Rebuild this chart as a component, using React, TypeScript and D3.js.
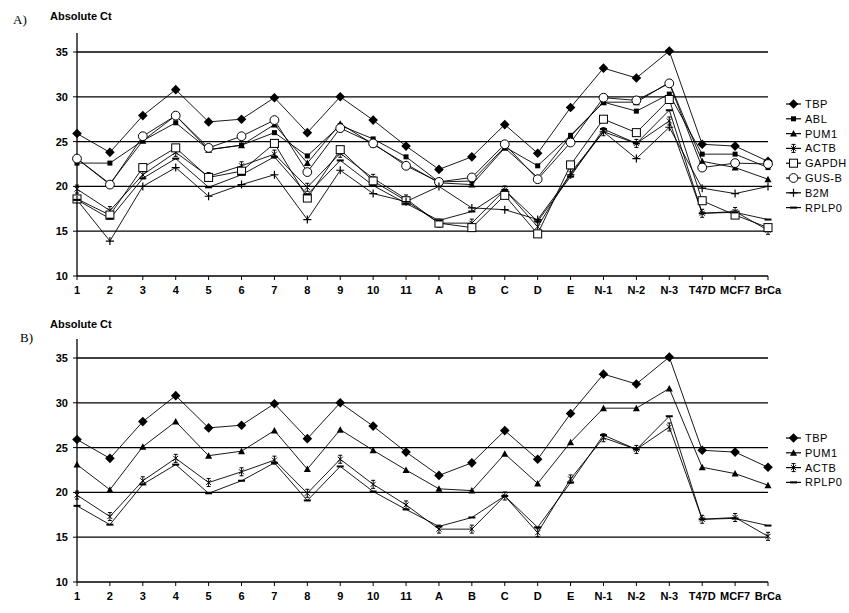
import React from 'react';
import * as d3 from 'd3';

const categories = ['1', '2', '3', '4', '5', '6', '7', '8', '9', '10', '11', 'A', 'B', 'C', 'D', 'E', 'N-1', 'N-2', 'N-3', 'T47D', 'MCF7', 'BrCa'];

const TBP = [25.9, 23.8, 27.9, 30.8, 27.2, 27.5, 29.9, 26.0, 30.0, 27.4, 24.5, 21.9, 23.3, 26.9, 23.7, 28.8, 33.2, 32.1, 35.1, 24.7, 24.5, 22.8];
const ABL = [22.6, 22.6, 25.1, 27.1, 24.1, 24.6, 26.0, 23.4, 26.8, 25.3, 23.3, 20.5, 20.6, 24.4, 22.3, 25.7, 29.4, 28.4, 30.3, 23.6, 23.6, 22.1];
const PUM1 = [23.1, 20.3, 25.1, 27.9, 24.1, 24.6, 26.9, 22.6, 27.0, 24.7, 22.5, 20.4, 20.2, 24.3, 21.0, 25.6, 29.4, 29.4, 31.6, 22.8, 22.1, 20.8];
const ACTB = [19.7, 17.3, 21.3, 23.8, 21.1, 22.3, 23.6, 19.9, 23.7, 20.9, 18.6, 15.9, 15.9, 19.6, 15.5, 21.5, 26.1, 24.8, 27.3, 17.0, 17.2, 15.1];
const GAPDH = [18.6, 16.8, 22.1, 24.3, 21.0, 21.7, 24.8, 18.7, 24.1, 20.6, 18.4, 15.9, 15.4, 19.0, 14.7, 22.4, 27.5, 26.0, 29.7, 18.4, 16.8, 15.4];
const GUSB = [23.1, 20.2, 25.6, 27.9, 24.3, 25.6, 27.4, 21.6, 26.5, 24.8, 22.3, 20.5, 21.0, 24.7, 20.8, 24.9, 29.9, 29.6, 31.5, 22.1, 22.6, 22.5];
const B2M = [18.5, 13.9, 20.0, 22.1, 18.9, 20.2, 21.3, 16.3, 21.8, 19.2, 18.3, 20.0, 17.6, 17.4, 16.3, 21.3, 26.1, 23.1, 26.6, 19.8, 19.2, 20.0];
const RPLP0 = [18.5, 16.4, 20.9, 23.1, 19.9, 21.3, 23.3, 19.1, 22.9, 20.1, 18.1, 16.2, 17.2, 19.6, 16.1, 21.1, 26.4, 24.8, 28.5, 17.0, 17.1, 16.3];

const yTicks = [10, 15, 20, 25, 30, 35];

type Series = { name: string; values: number[]; marker: string };

const seriesA: Series[] = [
  { name: 'TBP', values: TBP, marker: 'diamond' },
  { name: 'ABL', values: ABL, marker: 'square' },
  { name: 'PUM1', values: PUM1, marker: 'triangle' },
  { name: 'ACTB', values: ACTB, marker: 'asterisk' },
  { name: 'GAPDH', values: GAPDH, marker: 'openSquare' },
  { name: 'GUS-B', values: GUSB, marker: 'circle' },
  { name: 'B2M', values: B2M, marker: 'plus' },
  { name: 'RPLP0', values: RPLP0, marker: 'dash' },
];

const seriesB: Series[] = [
  { name: 'TBP', values: TBP, marker: 'diamond' },
  { name: 'PUM1', values: PUM1, marker: 'triangle' },
  { name: 'ACTB', values: ACTB, marker: 'asterisk' },
  { name: 'RPLP0', values: RPLP0, marker: 'dash' },
];

function Marker({ type, x, y }: { type: string; x: number; y: number }) {
  const t = `translate(${x},${y})`;
  if (type === 'diamond') {
    return <path transform={t} d="M0,-4.8L4.8,0L0,4.8L-4.8,0Z" fill="#000" />;
  }
  if (type === 'square') {
    return <rect x={x - 2.5} y={y - 2.5} width={5} height={5} fill="#000" />;
  }
  if (type === 'triangle') {
    return <path transform={t} d="M0,-3.5L3.5,3L-3.5,3Z" fill="#000" />;
  }
  if (type === 'openSquare') {
    return <rect x={x - 4} y={y - 4} width={8} height={8} fill="#fff" stroke="#000" strokeWidth={1} />;
  }
  if (type === 'circle') {
    return <circle cx={x} cy={y} r={4.4} fill="#fff" stroke="#000" strokeWidth={1} />;
  }
  if (type === 'asterisk') {
    return <path transform={t} d="M-2.5,-2.5L2.5,2.5M2.5,-2.5L-2.5,2.5M0,-4L0,4M-2,-4L2,-4M-2,4L2,4" stroke="#000" strokeWidth={1} fill="none" />;
  }
  if (type === 'plus') {
    return <path transform={t} d="M-4,0L4,0M0,-4L0,4" stroke="#000" strokeWidth={1.2} fill="none" />;
  }
  if (type === 'dash') {
    return <path transform={t} d="M-3.5,0L3.5,0" stroke="#000" strokeWidth={2} fill="none" />;
  }
  return null;
}

function Panel({ top, series, label, legendTop }: { top: number; series: Series[]; label: string; legendTop: number }) {
  const x = d3.scalePoint<string>().domain(categories).range([77, 768]);
  const y = d3.scaleLinear().domain([10, 35]).range([top + 224, top]);
  const line = d3.line<number>().x((_, i) => x(categories[i])!).y((d) => y(d));
  const font = 'Arial, "Liberation Sans", sans-serif';

  return (
    <g>
      {/* header */}
      <text x={label === 'A)' ? 13 : 20} y={label === 'A)' ? top - 28 : top - 16} fontFamily='"Liberation Serif", "Times New Roman", serif' fontSize={13}>{label}</text>
      <text x={50} y={label === 'A)' ? top - 32 : top - 30} fontFamily={font} fontSize={11} fontWeight="bold">Absolute Ct</text>

      {/* gridlines */}
      {yTicks.filter((t) => t > 10).map((t) => (
        <line key={t} x1={77} x2={768} y1={y(t)} y2={y(t)} stroke="#000" strokeWidth={1.3} />
      ))}

      {/* axes */}
      <line x1={77} x2={77} y1={top - 19} y2={y(10)} stroke="#000" strokeWidth={1.3} />
      <line x1={77} x2={768} y1={y(10)} y2={y(10)} stroke="#000" strokeWidth={1.3} />
      {yTicks.map((t) => (
        <g key={t}>
          <line x1={73} x2={77} y1={y(t)} y2={y(t)} stroke="#000" />
          <text x={68} y={y(t) + 4} textAnchor="end" fontFamily={font} fontSize={11} fontWeight="bold">{t}</text>
        </g>
      ))}
      {categories.map((c) => (
        <g key={c}>
          <line x1={x(c)} x2={x(c)} y1={y(10)} y2={y(10) + 4} stroke="#000" />
          <text x={x(c)} y={y(10) + 18} textAnchor="middle" fontFamily={font} fontSize={11} fontWeight="bold">{c}</text>
        </g>
      ))}

      {/* series lines */}
      {series.map((s) => (
        <path key={s.name} d={line(s.values)!} fill="none" stroke="#000" strokeWidth={0.9} />
      ))}
      {series.map((s) => (
        <g key={s.name + 'm'}>
          {s.values.map((v, i) => (
            <Marker key={i} type={s.marker} x={x(categories[i])!} y={y(v)} />
          ))}
        </g>
      ))}

      {/* legend */}
      {series.map((s, i) => {
        const ly = legendTop + i * 14.8;
        return (
          <g key={s.name + 'l'}>
            <line x1={786} x2={801} y1={ly} y2={ly} stroke="#000" strokeWidth={1.2} />
            <Marker type={s.marker} x={793.5} y={ly} />
            <text x={805} y={ly + 4} fontFamily={font} fontSize={11} letterSpacing={0.5}>{s.name}</text>
          </g>
        );
      })}
    </g>
  );
}

export default function App() {
  return (
    <svg width={849} height={613} style={{ position: 'absolute', left: 0, top: 0, background: '#fff' }}>
      <rect width={849} height={613} fill="#fff" />
      <Panel top={52} series={seriesA} label="A)" legendTop={104} />
      <Panel top={358} series={seriesB} label="B)" legendTop={438} />
    </svg>
  );
}
